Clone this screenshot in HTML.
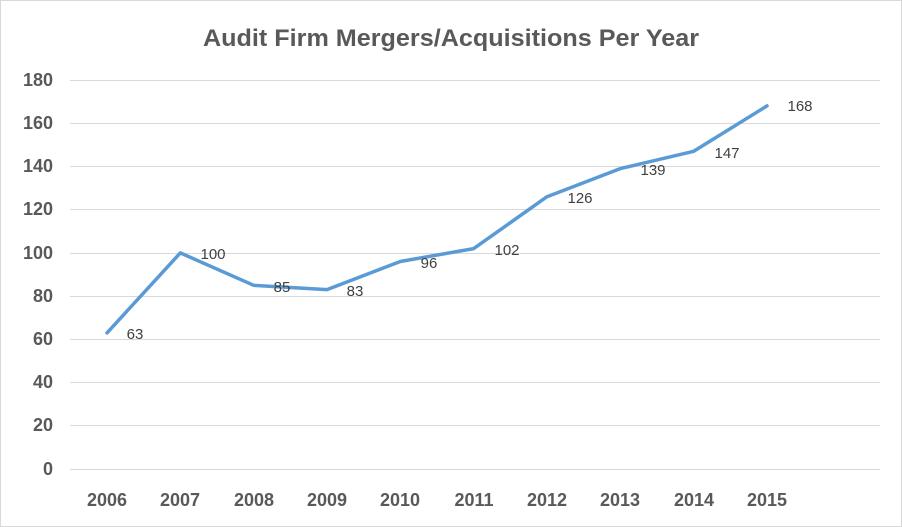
<!DOCTYPE html>
<html><head><meta charset="utf-8"><style>
html,body{margin:0;padding:0;background:#fff;}
svg{display:block;}
</style></head><body>
<svg width="902" height="527" xmlns="http://www.w3.org/2000/svg" font-family="Liberation Sans, sans-serif">
<rect x="0.5" y="0.5" width="901" height="526" fill="#fff" stroke="#d9d9d9"/>
<text x="203" y="46" font-size="24" font-weight="bold" fill="#595959" textLength="496" lengthAdjust="spacingAndGlyphs">Audit Firm Mergers/Acquisitions Per Year</text>
<g stroke="#d9d9d9" stroke-width="1">
<line x1="70" x2="880" y1="80.5" y2="80.5"/>
<line x1="70" x2="880" y1="123.5" y2="123.5"/>
<line x1="70" x2="880" y1="166.5" y2="166.5"/>
<line x1="70" x2="880" y1="209.5" y2="209.5"/>
<line x1="70" x2="880" y1="253.5" y2="253.5"/>
<line x1="70" x2="880" y1="296.5" y2="296.5"/>
<line x1="70" x2="880" y1="339.5" y2="339.5"/>
<line x1="70" x2="880" y1="382.5" y2="382.5"/>
<line x1="70" x2="880" y1="425.5" y2="425.5"/>
<line x1="70" x2="880" y1="469.5" y2="469.5"/>
</g>
<g font-size="18" font-weight="bold" fill="#595959" text-anchor="end">
<text x="53" y="86">180</text><text x="53" y="129">160</text><text x="53" y="172">140</text>
<text x="53" y="215">120</text><text x="53" y="259">100</text><text x="53" y="302">80</text>
<text x="53" y="345">60</text><text x="53" y="388">40</text><text x="53" y="431">20</text>
<text x="53" y="475">0</text>
</g>
<g font-size="18" font-weight="bold" fill="#595959" text-anchor="middle">
<text x="107" y="506">2006</text><text x="180" y="506">2007</text><text x="254" y="506">2008</text>
<text x="327" y="506">2009</text><text x="400" y="506">2010</text><text x="474" y="506">2011</text>
<text x="547" y="506">2012</text><text x="620" y="506">2013</text><text x="694" y="506">2014</text>
<text x="767" y="506">2015</text>
</g>
<polyline fill="none" stroke="#5b9bd5" stroke-width="3.5" stroke-linejoin="round" stroke-linecap="round"
points="107,332.9 180.3,252.9 253.7,285.3 327,289.6 400.3,261.5 473.7,248.6 547,196.7 620.3,168.6 693.7,151.3 767,105.9"/>
<g font-size="15" fill="#404040" text-anchor="middle">
<text x="135" y="339">63</text><text x="213" y="259">100</text><text x="282" y="292">85</text>
<text x="355" y="296">83</text><text x="429" y="268">96</text><text x="507" y="255">102</text>
<text x="580" y="203">126</text><text x="653" y="175">139</text><text x="727" y="158">147</text>
<text x="800" y="111">168</text>
</g>
</svg>
</body></html>
